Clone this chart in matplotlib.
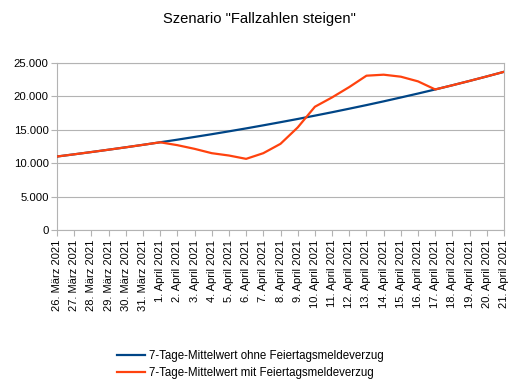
import matplotlib
matplotlib.use("Agg")
import matplotlib.pyplot as plt
from matplotlib.ticker import FuncFormatter

plt.rcParams['font.family'] = ['Liberation Sans', 'DejaVu Sans']

dates = ["26. März 2021", "27. März 2021", "28. März 2021", "29. März 2021",
         "30. März 2021", "31. März 2021", "1. April 2021", "2. April 2021",
         "3. April 2021", "4. April 2021", "5. April 2021", "6. April 2021",
         "7. April 2021", "8. April 2021", "9. April 2021", "10. April 2021",
         "11. April 2021", "12. April 2021", "13. April 2021", "14. April 2021",
         "15. April 2021", "16. April 2021", "17. April 2021", "18. April 2021",
         "19. April 2021", "20. April 2021", "21. April 2021"]

ohne = [11000, 11330, 11670, 12020, 12380, 12750, 13130, 13520, 13930, 14340,
        14770, 15210, 15670, 16140, 16620, 17120, 17630, 18160, 18700, 19260,
        19840, 20430, 21040, 21670, 22320, 22990, 23680]

mit = [11000, 11330, 11670, 12020, 12380, 12750, 13130, 12700, 12150, 11500,
       11150, 10650, 11500, 12900, 15350, 18450, 19850, 21400, 23100, 23250,
       22950, 22250, 21040, 21670, 22320, 22990, 23680]

label_ohne = "7-Tage-Mittelwert ohne Feiertagsmeldeverzug"
label_mit = "7-Tage-Mittelwert mit Feiertagsmeldeverzug"
title = 'Szenario "Fallzahlen steigen"'

fig = plt.figure(figsize=(5.18, 3.91), dpi=100)
ax = fig.add_axes([57/518, 1-230/391, 447/518, 167/391])

x = list(range(len(dates)))
ax.plot(x, ohne, color="#004586", lw=1.6, label=label_ohne, zorder=3)
ax.plot(x, mit, color="#ff420e", lw=1.6, label=label_mit, zorder=4)

ax.set_xlim(0, len(dates) - 1)
ax.set_ylim(0, 25000)
ax.set_yticks([0, 5000, 10000, 15000, 20000, 25000])
ax.yaxis.set_major_formatter(FuncFormatter(lambda v, p: f"{int(v):,}".replace(",", ".")))
ax.set_xticks(x)
ax.set_xticklabels(dates, rotation=90, fontsize=8)
ax.tick_params(axis='y', labelsize=8.2, length=4, color="#b3b3b3", pad=2)
ax.tick_params(axis='x', length=4, color="#b3b3b3", pad=3)
ax.grid(axis='y', color="#b3b3b3", lw=0.8)
ax.set_axisbelow(True)
for s in ax.spines.values():
    s.set_color("#b3b3b3")
    s.set_linewidth(0.8)

fig.suptitle(title, fontsize=10.6, y=1-19/391, va='center')

handles, labels = ax.get_legend_handles_labels()
fig.legend(handles, labels, loc='upper left', bbox_to_anchor=(117/518, 1-350/391),
           frameon=False, fontsize=8.3, handlelength=2.4, handletextpad=0.35,
           labelspacing=0.45, borderpad=0, borderaxespad=0)

fig.savefig("out.png", dpi=100)
